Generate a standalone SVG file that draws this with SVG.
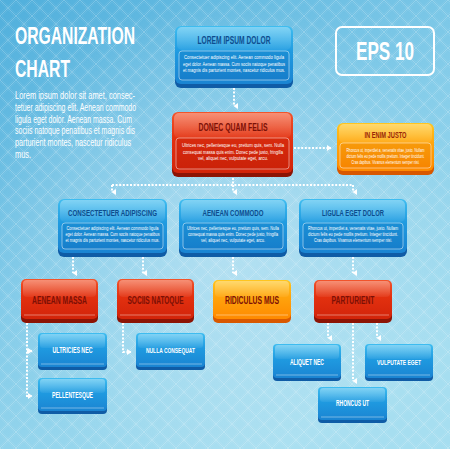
<svg xmlns="http://www.w3.org/2000/svg" width="450" height="449" viewBox="0 0 450 449">
<defs>
<linearGradient id="bg" x1="0" y1="0" x2="0.6" y2="1">
<stop offset="0" stop-color="#50afdc"/>
<stop offset="0.55" stop-color="#84cce9"/>
<stop offset="1" stop-color="#a6def0"/>
</linearGradient>
<radialGradient id="glow" cx="0.5" cy="0.55" r="0.55">
<stop offset="0" stop-color="#ffffff" stop-opacity="0.35"/>
<stop offset="1" stop-color="#ffffff" stop-opacity="0"/>
</radialGradient>
<pattern id="grid" patternUnits="userSpaceOnUse" width="16" height="16">
<path d="M0 0L16 16M16 0L0 16" stroke="#ffffff" stroke-opacity="0.28" stroke-width="0.8" fill="none"/>
<path d="M2 0L16 14M0 2L14 16M14 0L0 14M16 2L2 16" stroke="#ffffff" stroke-opacity="0.12" stroke-width="0.6" fill="none"/>
</pattern>
<linearGradient id="gBlue" x1="0" y1="0" x2="0" y2="1">
<stop offset="0" stop-color="#3fbdf0"/>
<stop offset="0.45" stop-color="#1f9ae0"/>
<stop offset="1" stop-color="#1a84d2"/>
</linearGradient>
<linearGradient id="gRed" x1="0" y1="0" x2="0" y2="1">
<stop offset="0" stop-color="#f2552c"/>
<stop offset="0.45" stop-color="#e2300f"/>
<stop offset="1" stop-color="#d2240a"/>
</linearGradient>
<linearGradient id="gOrange" x1="0" y1="0" x2="0" y2="1">
<stop offset="0" stop-color="#ffc620"/>
<stop offset="0.45" stop-color="#ffa30c"/>
<stop offset="1" stop-color="#ff8a00"/>
</linearGradient>
<linearGradient id="gloss" x1="0" y1="0" x2="0" y2="1">
<stop offset="0" stop-color="#ffffff" stop-opacity="0.35"/>
<stop offset="1" stop-color="#ffffff" stop-opacity="0.05"/>
</linearGradient>
<marker id="ad" viewBox="0 0 6 6" refX="3" refY="5" markerWidth="6" markerHeight="6" orient="auto-start-reverse" markerUnits="userSpaceOnUse">
<path d="M0 1L6 1L3 5.5Z" fill="#ffffff"/>
</marker>
<marker id="ar" viewBox="0 0 6 6" refX="5" refY="3" markerWidth="6" markerHeight="6" orient="0" markerUnits="userSpaceOnUse">
<path d="M1 0L1 6L5.5 3Z" fill="#ffffff"/>
</marker>
</defs>
<style>
.bf{fill:url(#gBlue)} .bb{fill:#0f5ca6}
.rf{fill:url(#gRed)} .rb{fill:#8c1405}
.of{fill:url(#gOrange)} .ob{fill:#d85800}
.gl{fill:url(#gloss)}
.il{fill:none;stroke:#ffffff;stroke-opacity:0.6;stroke-width:0.8}
.bp{fill:#0a4f9a;fill-opacity:0.15}
.rp{fill:#8a0a00;fill-opacity:0.12}
.op{fill:#c05000;fill-opacity:0.12}
.t{font-family:"Liberation Sans Narrow","Liberation Sans","DejaVu Sans",sans-serif;font-weight:bold;text-anchor:middle}
.tb{fill:#0d4d8e}
.tr{fill:#7c1006}
.to{fill:#9a2606}
.tw{fill:#ffffff}
.bd{font-family:"Liberation Sans Narrow","Liberation Sans",sans-serif;font-size:4.6px;fill:#ffffff;text-anchor:middle}
.c{fill:none;stroke:#ffffff;stroke-width:2;stroke-dasharray:2 1.6}
.h{font-family:"Liberation Sans Narrow","Liberation Sans",sans-serif;font-weight:bold;fill:#ffffff}
.p{font-family:"Liberation Sans Narrow","Liberation Sans",sans-serif;font-size:10.5px;fill:#ffffff}
</style>

<rect x="0" y="0" width="450" height="449" fill="url(#bg)"/>
<rect x="0" y="0" width="450" height="449" fill="url(#glow)"/>
<rect x="0" y="0" width="450" height="449" fill="url(#grid)"/>

<g id="title">
<text class="h" x="15" y="43.5" font-size="23" textLength="120" lengthAdjust="spacingAndGlyphs">ORGANIZATION</text>
<text class="h" x="15" y="77" font-size="23" textLength="55" lengthAdjust="spacingAndGlyphs">CHART</text>
<text class="p" x="15" y="99" textLength="120" lengthAdjust="spacingAndGlyphs">Lorem ipsum dolor sit amet, consec-</text>
<text class="p" x="15" y="111" textLength="121" lengthAdjust="spacingAndGlyphs">tetuer adipiscing elit. Aenean commodo</text>
<text class="p" x="15" y="122.5" textLength="117" lengthAdjust="spacingAndGlyphs">ligula eget dolor. Aenean massa. Cum</text>
<text class="p" x="15" y="134" textLength="120" lengthAdjust="spacingAndGlyphs">sociis natoque penatibus et magnis dis</text>
<text class="p" x="15" y="146" textLength="116" lengthAdjust="spacingAndGlyphs">parturient montes, nascetur ridiculus</text>
<text class="p" x="15" y="158" textLength="16" lengthAdjust="spacingAndGlyphs">mus.</text>
</g>

<g id="eps">
<rect x="336" y="27" width="98" height="48" rx="6" fill="none" stroke="#ffffff" stroke-width="2"/>
<text class="h" x="385" y="59.5" font-size="25" text-anchor="middle" textLength="58" lengthAdjust="spacingAndGlyphs">EPS 10</text>
</g>

<g id="connectors">
<path class="c" d="M234 88V106" marker-end="url(#ad)"/>
<path class="c" d="M294 148H331" marker-end="url(#ar)"/>
<path class="c" d="M233 178V185M112 185H353"/>
<path class="c" d="M112 185V192" marker-end="url(#ad)"/>
<path class="c" d="M233 185V192" marker-end="url(#ad)"/>
<path class="c" d="M353 185V192" marker-end="url(#ad)"/>
<path class="c" d="M73 257V273" marker-end="url(#ad)"/>
<path class="c" d="M143 257V273" marker-end="url(#ad)"/>
<path class="c" d="M233 257V273" marker-end="url(#ad)"/>
<path class="c" d="M353 257V273" marker-end="url(#ad)"/>
<path class="c" d="M27 323V396H32" marker-end="url(#ar)"/>
<path class="c" d="M27 351H32" marker-end="url(#ar)"/>
<path class="c" d="M123 323V352H131" marker-end="url(#ar)"/>
<path class="c" d="M328 323V338" marker-end="url(#ad)"/>
<path class="c" d="M353 323V381" marker-end="url(#ad)"/>
<path class="c" d="M377 323V338" marker-end="url(#ad)"/>
</g>

<g id="n-lorem">
<rect class="bb" x="175" y="30" width="118" height="58" rx="6"/>
<rect class="bf" x="175" y="26" width="118" height="58" rx="6"/>
<rect class="gl" x="177" y="27" width="114" height="23" rx="5"/>
<rect class="bp" x="179" y="51" width="110" height="29" rx="3"/>
<rect class="il" x="179" y="51" width="110" height="29" rx="3"/>
<text class="t tb" x="234" y="43.5" font-size="10.5" textLength="73" lengthAdjust="spacingAndGlyphs">LOREM IPSUM DOLOR</text>
<text class="bd" x="234" y="59" textLength="100" lengthAdjust="spacingAndGlyphs">Consectetuer adipiscing elit. Aenean commodo ligula</text>
<text class="bd" x="234" y="65.5" textLength="102" lengthAdjust="spacingAndGlyphs">eget dolor. Aenean massa. Cum sociis natoque penatibus</text>
<text class="bd" x="234" y="72" textLength="102" lengthAdjust="spacingAndGlyphs">et magnis dis parturient montes, nascetur ridiculus mus.</text>
</g>

<g id="n-donec">
<rect class="rb" x="172" y="116" width="121" height="61" rx="6"/>
<rect class="rf" x="172" y="112" width="121" height="61" rx="6"/>
<rect class="gl" x="174" y="113" width="117" height="25" rx="5"/>
<rect class="rp" x="176" y="138" width="113" height="31" rx="3"/>
<rect class="il" x="176" y="138" width="113" height="31" rx="3"/>
<text class="t tr" x="233" y="130.5" font-size="10.5" textLength="69" lengthAdjust="spacingAndGlyphs">DONEC QUAM FELIS</text>
<text class="bd" x="233" y="147" textLength="102" lengthAdjust="spacingAndGlyphs">Ultrices nec, pellentesque eu, pretium quis, sem. Nulla</text>
<text class="bd" x="233" y="153.5" textLength="100" lengthAdjust="spacingAndGlyphs">consequat massa quis enim. Donec pede justo, fringilla</text>
<text class="bd" x="233" y="160" textLength="70" lengthAdjust="spacingAndGlyphs">vel, aliquet nec, vulputate eget, arcu.</text>
</g>

<g id="n-enim">
<rect class="ob" x="337" y="127" width="97" height="48" rx="6"/>
<rect class="of" x="337" y="123" width="97" height="48" rx="6"/>
<rect class="gl" x="339" y="124" width="93" height="19" rx="5"/>
<rect class="op" x="340" y="143" width="91" height="25" rx="3"/>
<rect class="il" x="340" y="143" width="91" height="25" rx="3"/>
<text class="t to" x="385.5" y="137.5" font-size="9" textLength="42" lengthAdjust="spacingAndGlyphs">IN ENIM JUSTO</text>
<text class="bd" x="385.5" y="151.5" font-size="3.6" textLength="78" lengthAdjust="spacingAndGlyphs">Rhoncus ut, imperdiet a, venenatis vitae, justo. Nullam</text>
<text class="bd" x="385.5" y="157.5" font-size="3.6" textLength="78" lengthAdjust="spacingAndGlyphs">dictum felis eu pede mollis pretium. Integer tincidunt.</text>
<text class="bd" x="385.5" y="163.5" font-size="3.6" textLength="68" lengthAdjust="spacingAndGlyphs">Cras dapibus. Vivamus elementum semper nisi.</text>
</g>

<g id="n-consectetuer">
<rect class="bb" x="58" y="203" width="109" height="54" rx="6"/>
<rect class="bf" x="58" y="199" width="109" height="54" rx="6"/>
<rect class="gl" x="60" y="200" width="105" height="22" rx="5"/>
<rect class="bp" x="62" y="223" width="101" height="26" rx="3"/>
<rect class="il" x="62" y="223" width="101" height="26" rx="3"/>
<text class="t tb" x="112.5" y="215.5" font-size="9.5" textLength="89" lengthAdjust="spacingAndGlyphs">CONSECTETUER ADIPISCING</text>
<text class="bd" x="112.5" y="230" font-size="4" textLength="92" lengthAdjust="spacingAndGlyphs">Consectetuer adipiscing elit. Aenean commodo ligula</text>
<text class="bd" x="112.5" y="236" font-size="4" textLength="94" lengthAdjust="spacingAndGlyphs">eget dolor. Aenean massa. Cum sociis natoque penatibus</text>
<text class="bd" x="112.5" y="242" font-size="4" textLength="94" lengthAdjust="spacingAndGlyphs">et magnis dis parturient montes, nascetur ridiculus mus.</text>
</g>

<g id="n-commodo">
<rect class="bb" x="179" y="203" width="108" height="54" rx="6"/>
<rect class="bf" x="179" y="199" width="108" height="54" rx="6"/>
<rect class="gl" x="181" y="200" width="104" height="22" rx="5"/>
<rect class="bp" x="183" y="223" width="100" height="26" rx="3"/>
<rect class="il" x="183" y="223" width="100" height="26" rx="3"/>
<text class="t tb" x="233" y="215.5" font-size="9.5" textLength="61" lengthAdjust="spacingAndGlyphs">AENEAN COMMODO</text>
<text class="bd" x="233" y="230" font-size="4" textLength="92" lengthAdjust="spacingAndGlyphs">Ultrices nec, pellentesque eu, pretium quis, sem. Nulla</text>
<text class="bd" x="233" y="236" font-size="4" textLength="90" lengthAdjust="spacingAndGlyphs">consequat massa quis enim. Donec pede justo, fringilla</text>
<text class="bd" x="233" y="242" font-size="4" textLength="64" lengthAdjust="spacingAndGlyphs">vel, aliquet nec, vulputate eget, arcu.</text>
</g>

<g id="n-ligula">
<rect class="bb" x="299" y="203" width="108" height="54" rx="6"/>
<rect class="bf" x="299" y="199" width="108" height="54" rx="6"/>
<rect class="gl" x="301" y="200" width="104" height="22" rx="5"/>
<rect class="bp" x="303" y="223" width="100" height="26" rx="3"/>
<rect class="il" x="303" y="223" width="100" height="26" rx="3"/>
<text class="t tb" x="353" y="215.5" font-size="9.5" textLength="62" lengthAdjust="spacingAndGlyphs">LIGULA EGET DOLOR</text>
<text class="bd" x="353" y="230" font-size="4" textLength="90" lengthAdjust="spacingAndGlyphs">Rhoncus ut, imperdiet a, venenatis vitae, justo. Nullam</text>
<text class="bd" x="353" y="236" font-size="4" textLength="90" lengthAdjust="spacingAndGlyphs">dictum felis eu pede mollis pretium. Integer tincidunt.</text>
<text class="bd" x="353" y="242" font-size="4" textLength="78" lengthAdjust="spacingAndGlyphs">Cras dapibus. Vivamus elementum semper nisi.</text>
</g>

<g id="n-massa">
<rect class="rb" x="21" y="283" width="77" height="40" rx="5"/>
<rect class="rf" x="21" y="279" width="77" height="40" rx="5"/>
<rect class="gl" x="23" y="280" width="73" height="17" rx="4"/>
<path d="M24 315H95" stroke="#ffffff" stroke-opacity="0.5" stroke-width="0.8"/>
<text class="t tr" x="59.5" y="303.5" font-size="10.5" textLength="55" lengthAdjust="spacingAndGlyphs">AENEAN MASSA</text>
</g>

<g id="n-sociis">
<rect class="rb" x="117" y="283" width="77" height="40" rx="5"/>
<rect class="rf" x="117" y="279" width="77" height="40" rx="5"/>
<rect class="gl" x="119" y="280" width="73" height="17" rx="4"/>
<path d="M120 315H191" stroke="#ffffff" stroke-opacity="0.5" stroke-width="0.8"/>
<text class="t tr" x="155.5" y="303.5" font-size="10.5" textLength="56" lengthAdjust="spacingAndGlyphs">SOCIIS NATOQUE</text>
</g>

<g id="n-ridiculus">
<rect class="ob" x="213" y="284" width="78" height="39" rx="5"/>
<rect class="of" x="213" y="280" width="78" height="39" rx="5"/>
<rect class="gl" x="215" y="281" width="74" height="16" rx="4"/>
<path d="M216 315H288" stroke="#ffffff" stroke-opacity="0.5" stroke-width="0.8"/>
<text class="t tr" x="252" y="303.5" font-size="10.5" textLength="54" lengthAdjust="spacingAndGlyphs">RIDICULUS MUS</text>
</g>

<g id="n-parturient">
<rect class="rb" x="314" y="284" width="78" height="39" rx="5"/>
<rect class="rf" x="314" y="280" width="78" height="39" rx="5"/>
<rect class="gl" x="316" y="281" width="74" height="16" rx="4"/>
<path d="M317 315H389" stroke="#ffffff" stroke-opacity="0.5" stroke-width="0.8"/>
<text class="t tr" x="353" y="303.5" font-size="10.5" textLength="43" lengthAdjust="spacingAndGlyphs">PARTURIENT</text>
</g>

<g id="n-ultricies">
<rect class="bb" x="38" y="336" width="69" height="34" rx="4"/>
<rect class="bf" x="38" y="333" width="69" height="34" rx="4"/>
<rect class="gl" x="40" y="334" width="65" height="14" rx="3"/>
<path d="M41 364H104" stroke="#ffffff" stroke-opacity="0.5" stroke-width="0.8"/>
<text class="t tw" x="72.5" y="353" font-size="8.5" textLength="40" lengthAdjust="spacingAndGlyphs">ULTRICIES NEC</text>
</g>

<g id="n-pellentesque">
<rect class="bb" x="38" y="381" width="69" height="33" rx="4"/>
<rect class="bf" x="38" y="378" width="69" height="33" rx="4"/>
<rect class="gl" x="40" y="379" width="65" height="14" rx="3"/>
<path d="M41 408H104" stroke="#ffffff" stroke-opacity="0.5" stroke-width="0.8"/>
<text class="t tw" x="72.5" y="398" font-size="8.5" textLength="41" lengthAdjust="spacingAndGlyphs">PELLENTESQUE</text>
</g>

<g id="n-nulla">
<rect class="bb" x="136" y="336" width="69" height="34" rx="4"/>
<rect class="bf" x="136" y="333" width="69" height="34" rx="4"/>
<rect class="gl" x="138" y="334" width="65" height="14" rx="3"/>
<path d="M139 364H202" stroke="#ffffff" stroke-opacity="0.5" stroke-width="0.8"/>
<text class="t tw" x="170.5" y="353" font-size="8" textLength="49" lengthAdjust="spacingAndGlyphs">NULLA CONSEQUAT</text>
</g>

<g id="n-aliquet">
<rect class="bb" x="273" y="347" width="68" height="34" rx="4"/>
<rect class="bf" x="273" y="344" width="68" height="34" rx="4"/>
<rect class="gl" x="275" y="345" width="64" height="14" rx="3"/>
<path d="M276 375H338" stroke="#ffffff" stroke-opacity="0.5" stroke-width="0.8"/>
<text class="t tw" x="307" y="364.5" font-size="8.5" textLength="34" lengthAdjust="spacingAndGlyphs">ALIQUET NEC</text>
</g>

<g id="n-vulputate">
<rect class="bb" x="365" y="347" width="68" height="34" rx="4"/>
<rect class="bf" x="365" y="344" width="68" height="34" rx="4"/>
<rect class="gl" x="367" y="345" width="64" height="14" rx="3"/>
<path d="M368 375H430" stroke="#ffffff" stroke-opacity="0.5" stroke-width="0.8"/>
<text class="t tw" x="399" y="364.5" font-size="7.6" textLength="44" lengthAdjust="spacingAndGlyphs">VULPUTATE EGET</text>
</g>

<g id="n-rhoncus">
<rect class="bb" x="318" y="390" width="69" height="33" rx="4"/>
<rect class="bf" x="318" y="387" width="69" height="33" rx="4"/>
<rect class="gl" x="320" y="388" width="65" height="14" rx="3"/>
<path d="M321 417H384" stroke="#ffffff" stroke-opacity="0.5" stroke-width="0.8"/>
<text class="t tw" x="352.5" y="406" font-size="8.5" textLength="33" lengthAdjust="spacingAndGlyphs">RHONCUS UT</text>
</g>
</svg>
